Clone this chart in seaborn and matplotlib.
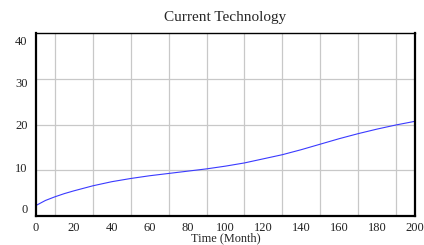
import numpy as np
import pandas as pd
import matplotlib
matplotlib.use('Agg')
import matplotlib.pyplot as plt
import seaborn as sns

# values
months = [0, 5, 10, 15, 20, 30, 40, 50, 60, 70, 80, 90, 100,
          110, 120, 130, 140, 150, 160, 170, 180, 190, 200]
technology = [2.3, 3.4, 4.2, 4.9, 5.5, 6.6, 7.5, 8.2, 8.8, 9.3, 9.8, 10.3, 10.9,
              11.6, 12.5, 13.4, 14.5, 15.7, 16.9, 18.0, 19.0, 19.9, 20.7]
y_labels = ['0', '10', '20', '30', '40']
x_labels = ['0', '20', '40', '60', '80', '100', '120', '140', '160', '180', '200']

df = pd.DataFrame({'Time': months, 'Current Technology': technology})

sns.set_style('white')
plt.rcParams['font.family'] = ['Liberation Serif', 'DejaVu Serif']

fig = plt.figure(figsize=(4.24, 2.45), dpi=100)
ax = fig.add_axes([36 / 424, 1 - 216 / 245, 379 / 424, 183 / 245])

sns.lineplot(data=df, x='Time', y='Current Technology', ax=ax,
             color='#3a3aff', linewidth=0.8)

ax.set_xlim(0, 200)
ax.set_ylim(0, 40)

# grid on minor ticks, labels on major ticks (labels sit a bit off the grid lines)
ax.set_xticks(np.arange(0, 201, 10), minor=True)
ax.set_yticks([10, 20, 30], minor=True)
ax.set_xticks(np.arange(0, 201, 20))
ax.set_xticklabels(x_labels)
ax.set_yticks([1.6, 10.5, 19.9, 29.1, 38.3])
ax.set_yticklabels(y_labels)
ax.grid(which='minor', color='#c8c8c8', linewidth=0.9)
ax.grid(which='major', visible=False)
ax.tick_params(which='both', length=0, labelsize=9, colors='#222222')
ax.tick_params(axis='x', pad=4)
ax.tick_params(axis='y', pad=6)

for side in ['left', 'bottom', 'right']:
    ax.spines[side].set_linewidth(1.6)
    ax.spines[side].set_color('black')
ax.spines['top'].set_linewidth(1.0)
ax.spines['top'].set_color('black')

ax.set_title('Current Technology', fontsize=11, pad=9)
ax.set_xlabel('Time (Month)', fontsize=8.8, labelpad=-1)
ax.set_ylabel('')

fig.savefig('out.png', dpi=100)
